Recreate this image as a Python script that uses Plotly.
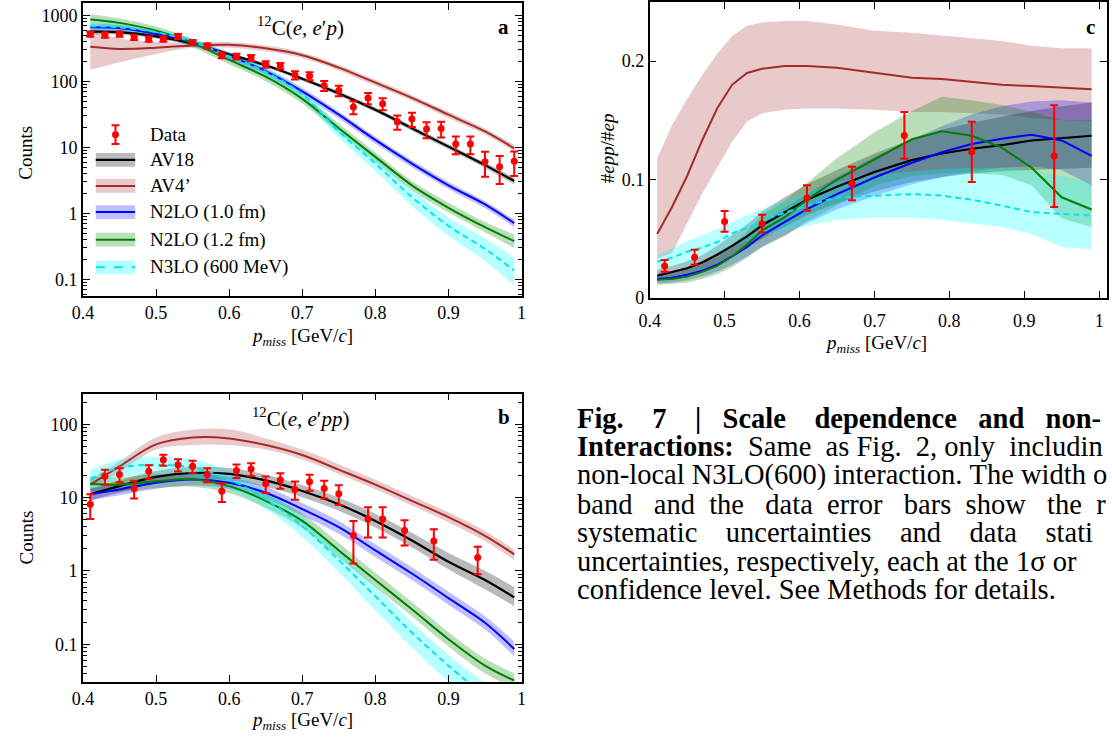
import plotly.graph_objects as go

W, H = 1112, 740
FONT = "Liberation Serif"


def px(x):
    return x / W


def py(y):
    return 1 - y / H


# ---------------- data ----------------
model_x = [0.41, 0.45, 0.50, 0.55, 0.60, 0.65, 0.70, 0.75, 0.80, 0.85, 0.90, 0.95, 0.99]

# panel a : 12C(e,e'p) counts
a_data_x = [0.41, 0.43, 0.45, 0.47, 0.49, 0.51, 0.53, 0.55, 0.57, 0.59, 0.61, 0.63, 0.65, 0.67, 0.69,
            0.71, 0.73, 0.75, 0.77, 0.79, 0.81, 0.83, 0.85, 0.87, 0.89, 0.91, 0.93, 0.95, 0.97, 0.99]
a_data_y = [525, 506, 525, 467, 440, 440, 483, 391, 347, 250, 239, 228, 182, 172, 125,
            121, 87, 73, 41, 56, 46, 24.5, 27, 19, 19.4, 11.3, 11.3, 6.1, 5.1, 6.2]
a_data_err = [47, 46, 47, 42, 40, 40, 43, 35, 31, 25, 24, 23, 20, 19, 17.5,
              17, 15, 13, 9, 11, 9.5, 6, 6.5, 5.2, 5.2, 3.4, 3.4, 2.5, 2.3, 2.5]

a_av18 = [570, 560, 483, 378, 259, 176, 110, 66, 37.4, 19.6, 10.3, 5.4, 3.1]
a_av18_lo = [520, 515, 450, 355, 243, 165, 103, 61, 34.5, 18, 9.4, 4.9, 2.75]
a_av18_hi = [620, 605, 515, 400, 275, 187, 117, 71, 40.5, 21.3, 11.2, 5.9, 3.5]

a_av4 = [336, 312, 325, 352, 360, 318, 250, 162, 96, 56.5, 31.4, 17.5, 9.7]
a_av4_lo = [150, 195, 262, 325, 325, 288, 226, 146, 86, 51, 28, 15.7, 8.7]
a_av4_hi = [580, 450, 395, 385, 398, 350, 276, 178, 106, 62, 34.8, 19.4, 10.9]

a_n2lo10 = [664, 640, 525, 391, 245, 144, 71, 31.4, 13, 5.7, 2.67, 1.37, 0.71]
a_n2lo10_lo = [585, 563, 462, 344, 216, 127, 62.5, 27.6, 11.4, 5.0, 2.35, 1.2, 0.62]
a_n2lo10_hi = [745, 717, 588, 438, 274, 161, 79.5, 35.2, 14.6, 6.4, 3.0, 1.53, 0.8]

a_n2lo12 = [868, 773, 590, 382, 212, 118, 54.5, 19.6, 7.2, 2.67, 1.22, 0.62, 0.38]
a_n2lo12_lo = [745, 665, 510, 330, 182, 101, 46.5, 16.5, 6.1, 2.25, 1.03, 0.52, 0.3]
a_n2lo12_hi = [1040, 900, 680, 440, 245, 137, 63, 22.8, 8.4, 3.1, 1.45, 0.74, 0.48]

a_n3lo = [690, 660, 560, 400, 240, 140, 64, 17.5, 5.7, 1.77, 0.65, 0.29, 0.137]
a_n3lo_lo = [600, 575, 490, 350, 205, 118, 53, 14, 4.4, 1.3, 0.46, 0.19, 0.08]
a_n3lo_hi = [780, 745, 630, 450, 275, 162, 75, 21, 7, 2.3, 0.87, 0.42, 0.215]

# panel b : 12C(e,e'pp) counts
b_data_x = [0.41, 0.43, 0.45, 0.47, 0.49, 0.51, 0.53, 0.55, 0.57, 0.59, 0.61, 0.63, 0.65, 0.67,
            0.69, 0.71, 0.73, 0.75, 0.77, 0.79, 0.81, 0.84, 0.88, 0.94]
b_data_y = [8.1, 19.5, 20.6, 13.3, 22.8, 32.7, 28, 26.6, 20.6, 12.2, 23.3, 24.5, 15.4, 17.3,
            12.9, 16.4, 13.3, 11.3, 3.03, 5.1, 5.1, 3.55, 2.55, 1.52]
b_data_err = [3.0, 4.5, 4.5, 3.6, 4.8, 5.5, 5.3, 5.2, 4.5, 3.5, 4.8, 4.9, 3.9, 4.1,
              3.6, 4.0, 3.6, 3.4, 1.77, 2.25, 2.25, 1.33, 1.13, 0.62]

b_av18 = [11.1, 14.3, 19.1, 21.6, 21, 17.1, 12.3, 8.1, 4.8, 2.6, 1.33, 0.75, 0.435]
b_av18_lo = [9.1, 11.7, 15.7, 17.7, 17.2, 14, 10.1, 6.6, 3.9, 2.1, 1.05, 0.56, 0.33]
b_av18_hi = [13.3, 17.2, 23, 26, 25.2, 20.5, 14.8, 9.9, 6.0, 3.3, 1.75, 1.0, 0.6]

b_av4 = [15, 26.6, 53, 66, 64, 52, 38, 24, 15, 9, 5.4, 3.0, 1.68]
b_av4_lo = [13.5, 22, 45, 52, 52, 45, 33, 21, 13, 7.8, 4.6, 2.55, 1.4]
b_av4_hi = [17.5, 31, 66, 84, 85, 64, 45, 28.5, 17.5, 10.5, 6.3, 3.5, 1.95]

b_n2lo10 = [11.1, 12.9, 15.9, 17.6, 15.9, 11.6, 6.95, 3.94, 1.9, 0.92, 0.425, 0.196, 0.086]
b_n2lo10_lo = [9.2, 10.7, 13.2, 14.6, 13.2, 9.6, 5.7, 3.2, 1.55, 0.75, 0.345, 0.158, 0.068]
b_n2lo10_hi = [13.3, 15.5, 19.1, 21.1, 19.1, 14, 8.4, 4.8, 2.3, 1.12, 0.52, 0.24, 0.108]

b_n2lo12 = [15.4, 15, 16.7, 17.6, 14.3, 9, 4.8, 1.9, 0.75, 0.30, 0.117, 0.051, 0.032]
b_n2lo12_lo = [12.3, 12, 13.4, 14, 11.4, 7.2, 3.8, 1.5, 0.6, 0.24, 0.093, 0.04, 0.025]
b_n2lo12_hi = [19.3, 18.8, 20.9, 22, 17.9, 11.3, 6, 2.4, 0.94, 0.375, 0.146, 0.064, 0.04]

b_n3lo = [18, 25.3, 28, 25.3, 17.6, 9.5, 4.1, 1.4, 0.45, 0.144, 0.051, 0.02, 0.011]
b_n3lo_lo = [13, 18.5, 21, 19, 13, 7, 2.9, 0.95, 0.29, 0.09, 0.031, 0.012, 0.0065]
b_n3lo_hi = [24, 33, 36, 33, 23, 12.5, 5.5, 1.9, 0.62, 0.2, 0.072, 0.03, 0.017]

# panel c : #epp/#ep ratio
c_x = [0.41, 0.43, 0.45, 0.47, 0.49, 0.51, 0.53, 0.55, 0.58, 0.61, 0.65, 0.70, 0.75, 0.79,
       0.83, 0.87, 0.91, 0.95, 0.99]
c_data_x = [0.42, 0.46, 0.50, 0.55, 0.61, 0.67, 0.74, 0.83, 0.94]
c_data_y = [0.027, 0.0343, 0.0646, 0.0627, 0.0844, 0.0967, 0.1373, 0.1234, 0.1198]
c_data_err = [0.005, 0.0063, 0.0088, 0.0075, 0.0107, 0.0142, 0.0198, 0.0255, 0.043]

c_av18 = [0.0187, 0.022, 0.025, 0.030, 0.0365, 0.044, 0.052, 0.0613, 0.072, 0.083, 0.0939, 0.1064,
          0.1164, 0.122, 0.126, 0.129, 0.133, 0.135, 0.137]
c_av18_lo = [0.014, 0.017, 0.020, 0.024, 0.029, 0.035, 0.042, 0.050, 0.060, 0.070, 0.080, 0.090,
             0.098, 0.102, 0.105, 0.107, 0.108, 0.109, 0.110]
c_av18_hi = [0.024, 0.027, 0.031, 0.036, 0.044, 0.053, 0.062, 0.073, 0.085, 0.096, 0.108, 0.122,
             0.134, 0.142, 0.148, 0.153, 0.158, 0.162, 0.165]

c_av4 = [0.054, 0.077, 0.103, 0.133, 0.160, 0.180, 0.190, 0.1936, 0.196, 0.196, 0.1944, 0.1903,
         0.186, 0.185, 0.1825, 0.180, 0.179, 0.1775, 0.1763]
c_av4_lo = [0.033, 0.038, 0.063, 0.088, 0.110, 0.132, 0.149, 0.156, 0.159, 0.160, 0.160, 0.159,
            0.157, 0.157, 0.156, 0.155, 0.152, 0.150, 0.149]
c_av4_hi = [0.118, 0.146, 0.168, 0.188, 0.206, 0.221, 0.230, 0.2326, 0.234, 0.234, 0.231, 0.2256,
            0.224, 0.2215, 0.219, 0.217, 0.213, 0.211, 0.211]

c_n2lo10 = [0.0159, 0.017, 0.0195, 0.023, 0.028, 0.035, 0.043, 0.0529, 0.064, 0.075, 0.0877, 0.1017,
            0.1142, 0.123, 0.130, 0.1345, 0.1379, 0.133, 0.120]
c_n2lo10_lo = [0.012, 0.013, 0.015, 0.018, 0.022, 0.028, 0.035, 0.043, 0.053, 0.063, 0.075, 0.086,
               0.096, 0.102, 0.107, 0.110, 0.111, 0.108, 0.095]
c_n2lo10_hi = [0.021, 0.023, 0.026, 0.030, 0.035, 0.043, 0.052, 0.063, 0.076, 0.088, 0.102, 0.119,
               0.134, 0.145, 0.155, 0.162, 0.166, 0.167, 0.165]

c_n2lo12 = [0.0153, 0.016, 0.018, 0.022, 0.027, 0.035, 0.045, 0.057, 0.068, 0.083, 0.100, 0.117,
            0.134, 0.1407, 0.137, 0.127, 0.110, 0.085, 0.0747]
c_n2lo12_lo = [0.011, 0.012, 0.013, 0.016, 0.020, 0.026, 0.034, 0.043, 0.052, 0.065, 0.078, 0.095,
               0.103, 0.105, 0.105, 0.104, 0.095, 0.067, 0.060]
c_n2lo12_hi = [0.020, 0.021, 0.024, 0.029, 0.035, 0.045, 0.056, 0.070, 0.082, 0.097, 0.118, 0.140,
               0.158, 0.170, 0.167, 0.163, 0.157, 0.150, 0.150]

c_n3lo = [0.0306, 0.034, 0.039, 0.0425, 0.047, 0.0545, 0.059, 0.0655, 0.072, 0.078, 0.085, 0.0864,
          0.0877, 0.0864, 0.083, 0.078, 0.0725, 0.071, 0.0696]
c_n3lo_lo = [0.024, 0.026, 0.028, 0.033, 0.038, 0.043, 0.048, 0.052, 0.057, 0.061, 0.066, 0.068,
             0.068, 0.066, 0.063, 0.060, 0.054, 0.043, 0.041]
c_n3lo_hi = [0.036, 0.042, 0.048, 0.053, 0.058, 0.064, 0.070, 0.075, 0.083, 0.089, 0.098, 0.104,
             0.107, 0.109, 0.110, 0.110, 0.108, 0.103, 0.097]

model_names = ["AV18", "AV4’", "N2LO (1.0 fm)", "N2LO (1.2 fm)", "N3LO (600 MeV)"]
line_colors = ["#000000", "#a52a2a", "#0000ff", "#008000", "#00e5ee"]
band_colors = ["rgba(0,0,0,0.27)", "rgba(165,42,42,0.25)", "rgba(0,0,255,0.25)",
               "rgba(0,128,0,0.27)", "rgba(0,255,255,0.28)"]
line_dash = ["solid", "solid", "solid", "solid", "6px,4px"]

x_ticks = [0.4, 0.5, 0.6, 0.7, 0.8, 0.9, 1.0]
x_ticktext = ["0.4", "0.5", "0.6", "0.7", "0.8", "0.9", "1"]
log_ticks = [0.1, 1, 10, 100, 1000]
log_ticktext = ["0.1", "1", "10", "100", "1000"]
lin_ticks = [0, 0.1, 0.2]
lin_ticktext = ["0", "0.1", "0.2"]

panels = {
    "a": dict(xa="x", ya="y", mx=model_x,
              models=[(a_av18, a_av18_lo, a_av18_hi), (a_av4, a_av4_lo, a_av4_hi),
                      (a_n2lo10, a_n2lo10_lo, a_n2lo10_hi), (a_n2lo12, a_n2lo12_lo, a_n2lo12_hi),
                      (a_n3lo, a_n3lo_lo, a_n3lo_hi)],
              data=(a_data_x, a_data_y, a_data_err), shape="spline"),
    "b": dict(xa="x2", ya="y2", mx=model_x,
              models=[(b_av18, b_av18_lo, b_av18_hi), (b_av4, b_av4_lo, b_av4_hi),
                      (b_n2lo10, b_n2lo10_lo, b_n2lo10_hi), (b_n2lo12, b_n2lo12_lo, b_n2lo12_hi),
                      (b_n3lo, b_n3lo_lo, b_n3lo_hi)],
              data=(b_data_x, b_data_y, b_data_err), shape="spline"),
    "c": dict(xa="x3", ya="y3", mx=c_x,
              models=[(c_av18, c_av18_lo, c_av18_hi), (c_av4, c_av4_lo, c_av4_hi),
                      (c_n2lo10, c_n2lo10_lo, c_n2lo10_hi), (c_n2lo12, c_n2lo12_lo, c_n2lo12_hi),
                      (c_n3lo, c_n3lo_lo, c_n3lo_hi)],
              data=(c_data_x, c_data_y, c_data_err), shape="linear"),
}

fig = go.Figure()

for key, p in panels.items():
    # uncertainty bands
    for i, (mid, lo, hi) in enumerate(p["models"]):
        fig.add_trace(go.Scatter(x=p["mx"], y=lo, mode="lines", xaxis=p["xa"], yaxis=p["ya"],
                                 line=dict(width=0, shape=p["shape"]), hoverinfo="skip",
                                 showlegend=False))
        fig.add_trace(go.Scatter(x=p["mx"], y=hi, mode="lines", xaxis=p["xa"], yaxis=p["ya"],
                                 line=dict(width=0, shape=p["shape"]), fill="tonexty",
                                 fillcolor=band_colors[i], hoverinfo="skip", showlegend=False))
    # central lines
    for i, (mid, lo, hi) in enumerate(p["models"]):
        fig.add_trace(go.Scatter(x=p["mx"], y=mid, mode="lines", xaxis=p["xa"], yaxis=p["ya"],
                                 name=model_names[i],
                                 line=dict(width=2.2 if i == 0 else 2, color=line_colors[i],
                                           dash=line_dash[i], shape=p["shape"]),
                                 showlegend=False))
    dx, dy, de = p["data"]
    fig.add_trace(go.Scatter(x=dx, y=dy, mode="markers", xaxis=p["xa"], yaxis=p["ya"], name="Data",
                             marker=dict(color="#ff0000", size=7),
                             error_y=dict(type="data", array=de, color="#ff0000", thickness=2, width=4),
                             showlegend=False))

tickfont = dict(family=FONT, size=18, color="black")
common = dict(showline=True, linecolor="black", linewidth=1.5, mirror="ticks", ticks="inside",
              ticklen=7, tickwidth=1.2, tickcolor="black", showgrid=False, zeroline=False,
              tickfont=tickfont)

log_minor = []
for dec in [0.01, 0.1, 1, 10, 100, 1000]:
    for m in range(2, 10):
        log_minor.append(dec * m)

xdom_left = [px(73), px(518)]
fig.update_layout(
    width=W, height=H, margin=dict(l=0, r=0, t=0, b=0),
    paper_bgcolor="white", plot_bgcolor="white", showlegend=False,
    xaxis=dict(domain=xdom_left, range=[0.4, 1.0], anchor="y", tickmode="array",
               tickvals=x_ticks, ticktext=x_ticktext, **common),
    yaxis=dict(domain=[py(300), py(3)], type="log", range=[-1.25, 3.19], anchor="x",
               tickmode="array", tickvals=log_ticks, ticktext=log_ticktext,
               minor=dict(ticks="inside", ticklen=4, tickwidth=1, tickcolor="black",
                          tickmode="array", tickvals=log_minor, showgrid=False), **common),
    xaxis2=dict(domain=xdom_left, range=[0.4, 1.0], anchor="y2", tickmode="array",
                tickvals=x_ticks, ticktext=x_ticktext, **common),
    yaxis2=dict(domain=[py(691), py(399)], type="log", range=[-1.511, 2.417], anchor="x2",
                tickmode="array", tickvals=log_ticks, ticktext=log_ticktext,
                minor=dict(ticks="inside", ticklen=4, tickwidth=1, tickcolor="black",
                           tickmode="array", tickvals=log_minor, showgrid=False), **common),
    xaxis3=dict(domain=[px(648), 1.0], range=[0.4, 1.0105], anchor="y3", tickmode="array",
                tickvals=x_ticks, ticktext=x_ticktext, ticklabelstandoff=6, **common),
    yaxis3=dict(domain=[py(302), py(2)], range=[0, 0.25], anchor="x3", tickmode="array",
                tickvals=lin_ticks, ticktext=lin_ticktext, **common),
)

ann = []


def text(x, y, s, size=19, xanchor="center", yanchor="middle", angle=0):
    ann.append(dict(x=px(x), y=py(y), xref="paper", yref="paper", text=s, showarrow=False,
                    xanchor=xanchor, yanchor=yanchor, textangle=angle,
                    font=dict(family=FONT, size=size, color="black")))


xtitle = "<i>p</i><sub><i>miss</i></sub> [GeV/<i>c</i>]"
text(295, 342, xtitle, size=19)
text(295, 731, xtitle, size=19)
text(878, 349, xtitle, size=19)
text(15, 155, "Counts", size=19, angle=-90)
text(16, 545, "Counts", size=19, angle=-90)
text(606, 150, "#<i>epp</i>/#<i>ep</i>", size=19, angle=-90)
text(294, 27, "<sup>12</sup>C(<i>e</i>, <i>e</i>′<i>p</i>)", size=21)
text(294, 423, "<sup>12</sup>C(<i>e</i>, <i>e</i>′<i>pp</i>)", size=21)
text(500, 27, "<b>a</b>", size=21)
text(500, 423, "<b>b</b>", size=21)
text(1095, 27, "<b>c</b>", size=21)

# legend (panel a)
shapes = []
leg_y = [162, 188.5, 215, 243, 271]
for i, yy in enumerate(leg_y):
    shapes.append(dict(type="rect", xref="paper", yref="paper", x0=px(86), x1=px(126),
                       y0=py(yy - 7), y1=py(yy + 7), fillcolor=band_colors[i], line=dict(width=0)))
    shapes.append(dict(type="line", xref="paper", yref="paper", x0=px(86), x1=px(126),
                       y0=py(yy), y1=py(yy),
                       line=dict(color=line_colors[i], width=2.2 if i == 0 else 2,
                                 dash="dash" if i == 4 else "solid")))
    text(139, yy, model_names[i], size=19, xanchor="left")
# data legend symbol
shapes.append(dict(type="line", xref="paper", yref="paper", x0=px(106), x1=px(106),
                   y0=py(127), y1=py(146), line=dict(color="#ff0000", width=2)))
for yy in (127, 146):
    shapes.append(dict(type="line", xref="paper", yref="paper", x0=px(102), x1=px(110),
                       y0=py(yy), y1=py(yy), line=dict(color="#ff0000", width=2)))
shapes.append(dict(type="circle", xref="paper", yref="paper", x0=px(102.5), x1=px(109.5),
                   y0=py(133), y1=py(140), fillcolor="#ff0000", line=dict(color="#ff0000", width=0)))
text(139, 136, "Data", size=19, xanchor="left")

# caption (justified text approximated with non-breaking spaces)
NB = "\u00a0"
caption = [
    (["<b>Fig.", "7", "|", "Scale", "dependence", "and", "non-</b>"], [4, 4, 3, 4, 3, 3]),
    (["<b>Interactions:</b>", "Same", "as", "Fig.", "2,", "only", "includin"], [2, 2, 1, 2, 1, 2]),
    (["non-local", "N3LO(600)", "interaction.", "The", "width", "o"], [1, 1, 1, 1, 1]),
    (["band", "and", "the", "data", "error", "bars", "show", "the", "r"], [3, 2, 3, 2, 3, 2, 3, 2]),
    (["systematic", "uncertainties", "and", "data", "stati"], [4, 4, 4, 4]),
    (["uncertainties,", "respectively,", "each", "at", "the", "1σ", "or"], [1, 1, 1, 1, 1, 1]),
    (["confidence", "level.", "See", "Methods", "for", "details."], [1, 1, 1, 1, 1]),
]
cap_y = [424, 453, 482, 511, 540, 569, 598]
for (words, gaps), yy in zip(caption, cap_y):
    s = words[0]
    for w, g in zip(words[1:], gaps):
        s += NB * g + w
    text(572, yy, s, size=28.5, xanchor="left")

fig.update_layout(annotations=ann, shapes=shapes)
fig.write_html("out.html")
